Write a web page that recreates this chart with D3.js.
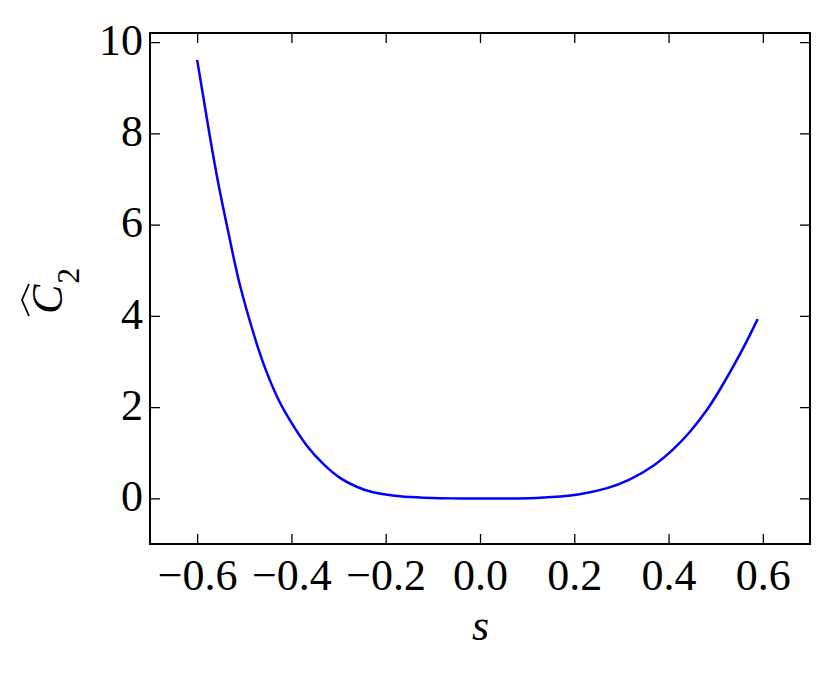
<!DOCTYPE html>
<html>
<head>
<meta charset="utf-8">
<script src="https://cdn.jsdelivr.net/npm/d3@7"></script>
<style>
  html, body { margin: 0; padding: 0; background: #fff; }
  svg { display: block; }
</style>
</head>
<body>
<svg id="chart" width="831" height="678"></svg>
<script>
// ---- data ----
const sValues = [-0.600, -0.5746, -0.5528, -0.530, -0.5089, -0.479, -0.456, -0.431, -0.403, -0.3676,
                 -0.332, -0.297, -0.2617, -0.2265, -0.170, -0.12, -0.06, 0.0, 0.06, 0.12,
                 0.17, 0.2114, 0.268, 0.317, 0.3667, 0.409, 0.4445, 0.480, 0.508, 0.536, 0.5646, 0.589];
const c2Values = [9.61, 8.03, 6.78, 5.64, 4.66, 3.57, 2.86, 2.24, 1.71, 1.16,
                  0.75, 0.45, 0.255, 0.135, 0.045, 0.015, 0.0, 0.0, 0.0, 0.01,
                  0.04, 0.09, 0.22, 0.41, 0.71, 1.07, 1.45, 1.92, 2.37, 2.87, 3.42, 3.93];
const xTicks = [-0.6, -0.4, -0.2, 0.0, 0.2, 0.4, 0.6];
const yTicks = [0, 2, 4, 6, 8, 10];
const xDomain = [-0.7, 0.7];
const yDomain = [-1, 10.2];

const svg = d3.select("#chart");
const L = 150, R = 810, T = 33, B = 544;
const x = d3.scaleLinear().domain(xDomain).range([L, R]);
const y = d3.scaleLinear().domain(yDomain).range([B, T]);
const font = "'Liberation Serif', 'Times New Roman', serif";
const fs = 44;
const tickLen = 10;

// curve
const pts = sValues.map((s, i) => [s, c2Values[i]]);
svg.append("path")
  .datum(pts)
  .attr("fill", "none")
  .attr("stroke", "#0000ff")
  .attr("stroke-width", 2.5)
  .attr("d", d3.line().x(d => x(d[0])).y(d => y(d[1])).curve(d3.curveNatural));

const fmtX = d3.format(".1f");

// axes with inward ticks on all four sides
const axB = svg.append("g").attr("transform", `translate(0,${B})`)
  .call(d3.axisBottom(x).tickValues(xTicks).tickSize(-tickLen).tickPadding(0).tickFormat(fmtX));
const axT = svg.append("g").attr("transform", `translate(0,${T})`)
  .call(d3.axisTop(x).tickValues(xTicks).tickSize(-tickLen).tickFormat(""));
const axL = svg.append("g").attr("transform", `translate(${L},0)`)
  .call(d3.axisLeft(y).tickValues(yTicks).tickSize(-tickLen).tickPadding(0).tickFormat(d3.format("d")));
const axR = svg.append("g").attr("transform", `translate(${R},0)`)
  .call(d3.axisRight(y).tickValues(yTicks).tickSize(-tickLen).tickFormat(""));

[axB, axT, axL, axR].forEach(g => {
  g.select(".domain").remove();
  g.selectAll(".tick line").attr("stroke", "#000").attr("stroke-width", 1.3);
});

axB.selectAll(".tick text")
  .attr("font-family", font).attr("font-size", fs).attr("fill", "#000")
  .attr("dy", null).attr("y", 46);
axL.selectAll(".tick text")
  .attr("font-family", font).attr("font-size", fs).attr("fill", "#000")
  .attr("x", -7).attr("dy", "0.28em");

// frame
svg.append("rect")
  .attr("x", L).attr("y", T).attr("width", R - L).attr("height", B - T)
  .attr("fill", "none").attr("stroke", "#000").attr("stroke-width", 2);

// x label
svg.append("text")
  .attr("x", 480.5).attr("y", 640)
  .attr("text-anchor", "middle")
  .attr("font-family", font).attr("font-size", fs).attr("font-style", "italic")
  .text("s");

// y label: widehat C subscript 2
const yl = svg.append("g").attr("transform", `translate(62,314) rotate(-90)`);
const ytxt = yl.append("text")
  .attr("x", 0).attr("y", 0)
  .attr("text-anchor", "start")
  .attr("font-family", font).attr("font-size", fs);
ytxt.append("tspan").attr("font-style", "italic").text("C");
ytxt.append("tspan").attr("font-size", 32).attr("dy", 17).attr("dx", 1).text("2");
// wide hat over C
yl.append("path")
  .attr("d", "M-2,-33 L14,-40 L30,-33")
  .attr("fill", "none").attr("stroke", "#000").attr("stroke-width", 1.8);
</script>
</body>
</html>
